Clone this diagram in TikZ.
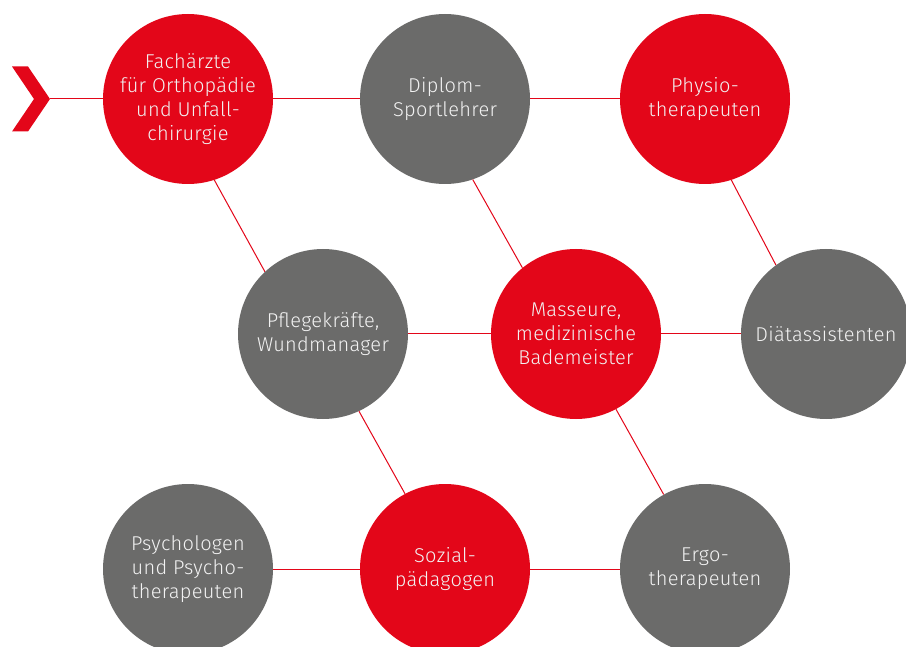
\documentclass[tikz,border=0pt]{standalone}
\usepackage{fontspec}
\setmainfont{Fira Sans}[UprightFont=* Light, LetterSpace=1.5]
\usepackage{tikz}

\definecolor{rotton}{HTML}{E30619}
\definecolor{grauton}{HTML}{6B6B6A}
\definecolor{schrift}{HTML}{F2F2F2}

\tikzset{
    kreis/.style={circle, minimum size=170pt, inner sep=0pt, align=center,
        text=schrift, font=\fontsize{20}{24}\selectfont},
    rotkreis/.style={kreis, fill=rotton},
    graukreis/.style={kreis, fill=grauton},
    verbindung/.style={draw=rotton, line width=1pt}
}

\begin{document}
\begin{tikzpicture}[x=1pt, y=-1pt]
    \useasboundingbox (0,0) rectangle (906,647);
    \clip (0,0) rectangle (906,647);

    \fill[rotton] (12,66.5) -- (28,66.5) -- (50,99) -- (28,131.5) -- (12,131.5) -- (34,99) -- cycle;
    \coordinate (pfeil) at (50,99);

    \node[rotkreis] (F) at (188,99) {Fachärzte\\für Orthopädie\\und Unfall-\\chirurgie};
    \node[graukreis] (D) at (445,99) {Diplom-\\Sportlehrer};
    \node[rotkreis] (P) at (705,99) {Physio-\\therapeuten};

    \node[graukreis] (Pf) at (323,334) {Pflegekräfte,\\Wundmanager};
    \node[rotkreis] (M) at (576,334) {Masseure,\\medizinische\\Bademeister};
    \node[graukreis] (Di) at (826,334) {Diätassistenten};

    \node[graukreis] (Ps) at (188,569) {Psychologen\\und Psycho-\\therapeuten};
    \node[rotkreis] (S) at (445,569) {Sozial-\\pädagogen};
    \node[graukreis] (E) at (705,569) {Ergo-\\therapeuten};

    \draw[verbindung] (pfeil) -- (F);
    \draw[verbindung] (F) -- (D);
    \draw[verbindung] (D) -- (P);
    \draw[verbindung] (Pf) -- (M);
    \draw[verbindung] (M) -- (Di);
    \draw[verbindung] (Ps) -- (S);
    \draw[verbindung] (S) -- (E);

    \draw[verbindung] (F.-72) -- (Pf.133);
    \draw[verbindung] (D.-71) -- (M.129);
    \draw[verbindung] (P.-72) -- (Di.126);
    \draw[verbindung] (Pf.-65) -- (S.118);
    \draw[verbindung] (M.-62) -- (E.119);
\end{tikzpicture}
\end{document}
